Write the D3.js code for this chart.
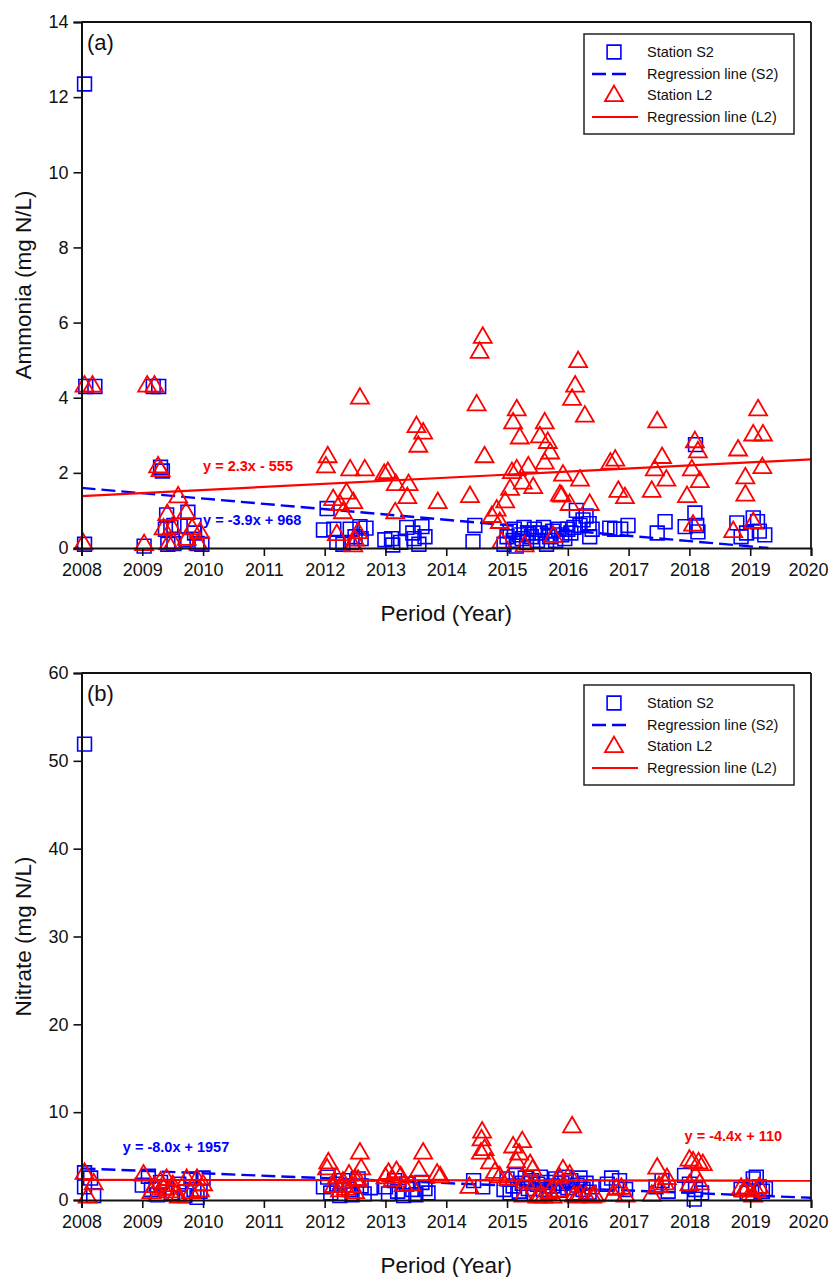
<!DOCTYPE html>
<html>
<head>
<meta charset="utf-8">
<script src="https://cdn.jsdelivr.net/npm/d3@7"></script>
<style>
  html, body { margin: 0; padding: 0; background: #fff; }
  svg text { font-family: "Liberation Sans", Arial, sans-serif; }
</style>
</head>
<body>
<svg id="fig" width="829" height="1277"></svg>
<script>
// ---------- data ----------
const yearTicks = [2008, 2009, 2010, 2011, 2012, 2013, 2014, 2015, 2016, 2017, 2018, 2019, 2020];
const ammoniaTicks = [0, 2, 4, 6, 8, 10, 12, 14];
const nitrateTicks = [0, 10, 20, 30, 40, 50, 60];
const legendLabels = ["Station S2", "Regression line (S2)", "Station L2", "Regression line (L2)"];

// Ammonia, station S2 [year, mg N/L]
const ammoniaS2 = [
  [2008.05,12.35],[2008.05,0.1],[2008.07,4.3],[2008.22,4.3],
  [2009.03,0.05],[2009.18,4.3],[2009.27,4.3],[2009.3,2.15],[2009.33,2.05],
  [2009.4,0.88],[2009.47,0.55],[2009.38,0.5],[2009.52,0.6],[2009.75,0.95],[2009.85,0.6],[2009.86,0.4],
  [2009.42,0.1],[2009.52,0.12],[2009.72,0.22],[2009.9,0.12],[2009.98,0.1],
  [2012.04,1.05],[2011.98,0.48],[2012.15,0.5],[2012.2,0.15],[2012.3,0.1],[2012.42,0.5],[2012.45,0.15],
  [2012.58,0.57],[2012.6,0.25],[2012.68,0.53],[2012.5,0.3],
  [2012.99,0.22],[2013.1,0.25],[2013.12,0.08],[2013.25,0.15],[2013.35,0.55],[2013.45,0.4],[2013.47,0.25],
  [2013.55,0.1],[2013.6,0.57],[2013.65,0.3],
  [2014.44,0.17],[2014.47,0.6],
  [2014.95,0.1],[2015.0,0.3],[2015.05,0.45],[2015.1,0.2],[2015.12,0.5],[2015.15,0.05],[2015.2,0.35],
  [2015.25,0.25],[2015.28,0.55],[2015.32,0.15],[2015.35,0.4],[2015.4,0.3],[2015.45,0.5],[2015.5,0.2],
  [2015.55,0.4],[2015.6,0.55],[2015.65,0.1],[2015.7,0.3],[2015.75,0.45],[2015.8,0.2],[2015.85,0.5],
  [2015.9,0.35],[2015.95,0.25],[2016.0,0.5],[2016.05,0.4],[2016.1,0.55],[2016.14,1.0],[2016.2,0.6],
  [2016.25,0.75],[2016.3,0.85],[2016.35,0.65],[2016.36,0.3],[2016.4,0.5],
  [2016.69,0.53],[2016.77,0.5],[2016.87,0.5],[2016.99,0.6],
  [2017.47,0.4],[2017.6,0.7],
  [2017.93,0.57],[2018.09,0.93],[2018.1,2.75],[2018.14,0.43],[2018.12,0.6],
  [2018.78,0.67],[2018.85,0.3],[2018.94,0.4],[2019.05,0.8],[2019.12,0.7],[2019.15,0.45],[2019.24,0.35]
];

// Ammonia, station L2
const ammoniaL2 = [
  [2008.03,0.1],[2008.05,4.3],[2008.18,4.3],
  [2009.03,0.08],[2009.08,4.3],[2009.2,4.3],[2009.26,2.15],[2009.3,2.05],
  [2009.59,1.35],[2009.41,0.88],[2009.72,0.93],[2009.49,0.53],[2009.35,0.5],[2009.82,0.5],[2009.95,0.4],
  [2009.51,0.13],[2009.43,0.1],[2009.73,0.22],[2009.92,0.1],
  [2012.05,2.42],[2012.02,2.15],[2012.14,1.28],[2012.25,1.15],[2012.36,1.45],[2012.47,1.2],[2012.3,0.93],
  [2012.2,0.35],[2012.42,2.07],[2012.66,2.07],[2012.58,3.98],[2012.47,0.05],[2012.55,0.4],[2012.5,0.2],
  [2012.98,1.95],[2013.04,2.0],[2013.17,1.68],[2013.38,1.68],[2013.36,1.33],[2013.16,0.93],[2013.51,3.22],
  [2013.62,3.05],[2013.54,2.7],[2013.86,1.2],
  [2014.39,1.36],[2014.63,2.42],[2014.5,3.8],[2014.55,5.2],[2014.6,5.6],
  [2014.91,0.15],[2014.88,0.67],[2014.75,0.83],[2014.83,1.0],[2014.97,1.22],[2015.05,1.55],[2015.08,2.0],
  [2015.16,3.67],[2015.1,3.32],[2015.21,2.92],[2015.16,2.07],[2015.26,1.72],[2015.43,1.6],[2015.29,0.05],
  [2015.62,3.32],[2015.54,2.95],[2015.67,2.8],[2015.71,2.52],[2015.62,2.25],[2015.35,2.15],[2015.76,0.3],
  [2015.92,1.93],[2015.87,1.4],
  [2016.17,4.95],[2016.12,4.3],[2016.07,3.95],[2016.28,3.5],[2016.2,1.8],[2015.9,1.37],[2016.03,1.15],[2016.36,1.15],
  [2016.7,2.25],[2016.78,2.33],[2016.83,1.5],[2016.94,1.33],
  [2017.47,3.35],[2017.55,2.4],[2017.43,2.07],[2017.62,1.8],[2017.38,1.5],
  [2018.09,2.82],[2018.14,2.55],[2018.04,2.07],[2018.17,1.76],[2017.96,1.36],[2018.06,0.6],
  [2018.8,2.6],[2018.92,1.86],[2018.92,1.4],[2018.72,0.43],[2019.05,0.67],[2019.13,3.67],[2019.05,3.0],
  [2019.21,3.0],[2019.2,2.13]
];

// Nitrate, station S2
const nitrateS2 = [
  [2008.05,51.9],[2008.05,3.1],[2008.05,1.5],[2008.2,0.5],[2008.15,2.5],
  [2009.0,1.7],[2009.1,2.7],[2009.15,1.2],[2009.25,0.6],[2009.3,2.0],[2009.4,1.4],[2009.5,0.8],[2009.6,1.8],
  [2009.7,0.5],[2009.8,2.4],[2009.85,1.2],[2009.9,0.3],[2010.0,2.5],[2009.95,1.0],
  [2011.98,1.5],[2012.05,2.6],[2012.1,0.8],[2012.2,1.8],[2012.25,0.5],[2012.3,2.2],[2012.4,1.2],[2012.45,0.6],
  [2012.55,2.4],[2012.6,1.6],[2012.65,0.7],[2012.75,1.4],
  [2013.0,1.5],[2013.05,0.7],[2013.15,2.2],[2013.2,1.0],[2013.3,0.5],[2013.35,1.8],[2013.45,1.2],[2013.5,0.6],
  [2013.6,2.0],[2013.65,1.3],[2013.7,0.8],
  [2014.45,2.2],[2014.6,1.5],[2014.95,1.2],[2015.0,2.4],[2015.05,0.8],[2015.1,1.6],[2015.15,2.8],[2015.2,1.0],
  [2015.25,1.9],[2015.3,2.5],[2015.35,1.3],[2015.4,2.2],[2015.45,0.7],[2015.5,1.8],[2015.55,2.6],[2015.6,1.2],
  [2015.65,2.0],[2015.7,0.9],[2015.75,1.6],[2015.8,2.4],[2015.85,1.1],[2015.9,1.9],[2015.95,2.6],[2016.0,1.4],
  [2016.05,2.2],[2016.1,0.8],[2016.15,1.7],[2016.2,2.5],[2016.25,1.2],[2016.3,1.9],[2016.35,0.9],[2016.4,1.5],
  [2016.65,1.8],[2016.72,2.5],[2016.8,1.4],[2016.85,2.2],[2016.95,1.2],
  [2017.45,1.5],[2017.55,2.2],[2017.65,1.0],
  [2017.92,2.8],[2018.0,1.8],[2018.08,0.1],[2018.1,1.2],[2018.2,0.8],
  [2018.85,1.2],[2018.95,0.8],[2019.05,2.4],[2019.1,2.6],[2019.15,1.5],[2019.2,1.0],[2019.25,1.3]
];

// Nitrate, station L2
const nitrateL2 = [
  [2008.05,3.0],[2008.2,1.8],[2008.1,0.3],
  [2009.02,2.8],[2009.15,0.8],[2009.2,1.5],[2009.25,0.5],[2009.3,2.0],[2009.35,1.2],[2009.4,2.3],[2009.45,0.9],
  [2009.5,1.6],[2009.55,0.5],[2009.6,0.3],[2009.73,2.3],[2009.8,0.8],[2009.9,2.3],[2010.0,1.7],[2009.95,1.0],
  [2012.04,3.5],[2012.06,4.2],[2012.15,1.5],[2012.2,2.5],[2012.25,1.0],[2012.3,2.0],[2012.35,1.2],[2012.4,2.8],
  [2012.45,1.5],[2012.5,2.3],[2012.55,2.2],[2012.58,5.3],[2012.6,3.5],[2012.5,0.8],
  [2013.0,2.5],[2013.05,3.0],[2013.12,2.2],[2013.18,3.2],[2013.25,2.6],[2013.3,1.6],[2013.42,1.7],[2013.55,3.3],
  [2013.62,5.3],[2013.85,2.9],
  [2013.9,2.6],[2014.38,1.4],[2014.59,7.7],[2014.58,6.8],[2014.63,5.7],[2014.57,5.3],[2014.72,4.2],[2015.25,6.6],
  [2015.1,6.0],[2015.2,5.2],[2015.15,4.3],[2015.38,4.0],[2015.42,3.4],[2014.8,3.1],[2014.88,2.6],[2015.02,2.3],
  [2015.27,0.4],[2015.5,0.3],[2015.55,0.5],[2015.6,0.3],[2015.7,0.8],[2015.75,0.3],[2015.85,1.0],[2015.92,3.4],
  [2016.03,2.8],[2015.86,2.5],[2016.07,8.3],[2016.1,0.4],[2016.15,0.3],[2016.2,0.5],[2016.3,0.4],[2016.4,0.3],
  [2016.45,0.4],[2015.3,2.0],[2015.45,1.8],
  [2016.75,0.5],[2016.8,1.2],[2016.88,1.3],[2016.95,0.4],
  [2017.47,3.6],[2017.63,2.4],[2017.5,1.5],[2017.38,0.5],[2017.6,1.8],
  [2018.0,4.5],[2018.06,4.3],[2018.15,4.2],[2018.1,2.7],[2018.17,1.8],[2018.0,1.7],[2018.22,4.0],
  [2018.85,1.3],[2018.9,1.0],[2018.95,1.3],[2019.0,0.6],[2019.05,0.4],[2019.15,1.4],[2019.1,1.0]
];

// Fitted trend lines, drawn between their end points [year, value]
const ammoniaFitS2 = [[2008, 1.6], [2019.3, 0]];
const ammoniaFitL2 = [[2008, 1.38], [2020, 2.36]];
const nitrateFitS2 = [[2008, 3.6], [2020, 0.25]];
const nitrateFitL2 = [[2008, 2.3], [2020, 2.2]];

const ammoniaEqS2 = "y = -3.9x + 968";
const ammoniaEqL2 = "y = 2.3x - 555";
const nitrateEqS2 = "y = -8.0x + 1957";
const nitrateEqL2 = "y = -4.4x + 110";

// ---------- drawing ----------
const BLUE = "#0000ff", RED = "#ff0000";
const svg = d3.select("#fig");

const left = 81.5, right = 811;

function panel(cfg) {
  const x = d3.scaleLinear().domain([2008, 2020]).range([left, right]);
  const y = d3.scaleLinear().domain([0, cfg.ymax]).range([cfg.bottom, cfg.top]);
  const g = svg.append("g");

  const sq = d3.symbol().type(d3.symbolSquare).size(190);
  const tri = d3.symbol().type(d3.symbolTriangle).size(140);
  const line = d3.line().x(d => x(d[0])).y(d => y(d[1]));

  // S2 squares + dashed fit
  g.append("g").selectAll("path").data(cfg.s2).join("path")
    .attr("d", sq).attr("transform", d => `translate(${x(d[0])},${y(d[1])})`)
    .attr("fill", "none").attr("stroke", BLUE).attr("stroke-width", 1.6);
  g.append("path").datum(cfg.fitS2).attr("d", line)
    .attr("fill", "none").attr("stroke", BLUE).attr("stroke-width", 2.4)
    .attr("stroke-dasharray", "14,6");

  // L2 triangles + solid fit
  g.append("g").selectAll("path").data(cfg.l2).join("path")
    .attr("d", tri).attr("transform", d => `translate(${x(d[0])},${y(d[1])})`)
    .attr("fill", "none").attr("stroke", RED).attr("stroke-width", 1.8);
  g.append("path").datum(cfg.fitL2).attr("d", line)
    .attr("fill", "none").attr("stroke", RED).attr("stroke-width", 2.2);

  // frame
  g.append("line").attr("x1", left).attr("x2", right).attr("y1", cfg.top).attr("y2", cfg.top)
    .attr("stroke", "#111").attr("stroke-width", 1.8);
  g.append("line").attr("x1", right).attr("x2", right).attr("y1", cfg.top).attr("y2", cfg.bottom)
    .attr("stroke", "#111").attr("stroke-width", 1.8);

  // axes
  const xAxis = g.append("g").attr("transform", `translate(0,${cfg.bottom})`)
    .call(d3.axisBottom(x).tickValues(yearTicks).tickFormat(d3.format("d")).tickSize(8).tickPadding(7));
  const yAxis = g.append("g").attr("transform", `translate(${left},0)`)
    .call(d3.axisLeft(y).tickValues(cfg.yticks).tickSize(8).tickPadding(5));
  [xAxis, yAxis].forEach(a => {
    a.select(".domain").attr("stroke", "#111").attr("stroke-width", 2);
    a.selectAll(".tick line").attr("stroke", "#111").attr("stroke-width", 1.6);
    a.selectAll("text").attr("fill", "#111").style("font-size", "18px")
      .style("font-family", '"Liberation Sans", Arial, sans-serif');
  });
  // keep the last year label inside the page edge
  xAxis.selectAll(".tick text").filter(d => d === 2020).attr("dx", "-3px");

  // titles
  g.append("text").attr("x", (left + right) / 2).attr("y", cfg.bottom + 73)
    .attr("text-anchor", "middle").style("font-size", "22.5px").attr("fill", "#111")
    .text("Period (Year)");
  g.append("text").attr("transform", `translate(31,${(cfg.top + cfg.bottom) / 2}) rotate(-90)`)
    .attr("text-anchor", "middle").style("font-size", "22.5px").attr("fill", "#111")
    .text(cfg.ytitle);
  g.append("text").attr("x", 87).attr("y", cfg.top + 28)
    .style("font-size", "22px").attr("fill", "#111").text(cfg.tag);

  // equations
  cfg.eqs.forEach(e => {
    g.append("text").attr("x", x(e.at[0])).attr("y", y(e.at[1]))
      .style("font-size", "14.5px").style("font-weight", "bold").attr("fill", e.color).text(e.text);
  });

  // legend
  const lx = 584, ly = cfg.top + 12, lw = 210, lh = 100;
  const lg = g.append("g");
  lg.append("rect").attr("x", lx).attr("y", ly).attr("width", lw).attr("height", lh)
    .attr("fill", "#fff").attr("stroke", "#222").attr("stroke-width", 1.5);
  const rows = [ly + 18, ly + 40, ly + 61, ly + 83];
  lg.append("path").attr("d", sq).attr("transform", `translate(614,${rows[0]})`)
    .attr("fill", "none").attr("stroke", BLUE).attr("stroke-width", 1.6);
  lg.append("line").attr("x1", 592).attr("x2", 630).attr("y1", rows[1]).attr("y2", rows[1])
    .attr("stroke", BLUE).attr("stroke-width", 2.4).attr("stroke-dasharray", "14,6");
  lg.append("path").attr("d", tri).attr("transform", `translate(614,${rows[2] + 1})`)
    .attr("fill", "none").attr("stroke", RED).attr("stroke-width", 1.8);
  lg.append("line").attr("x1", 592).attr("x2", 638).attr("y1", rows[3]).attr("y2", rows[3])
    .attr("stroke", RED).attr("stroke-width", 2.2);
  legendLabels.forEach((t, i) => {
    lg.append("text").attr("x", 647).attr("y", rows[i] + 5)
      .style("font-size", "14.5px").attr("fill", "#111").text(t);
  });
}

panel({
  top: 22, bottom: 548, ymax: 14, yticks: ammoniaTicks,
  ytitle: "Ammonia (mg N/L)", tag: "(a)",
  s2: ammoniaS2, l2: ammoniaL2, fitS2: ammoniaFitS2, fitL2: ammoniaFitL2,
  eqs: [
    { text: ammoniaEqL2, color: RED, at: [2010.0, 2.05] },
    { text: ammoniaEqS2, color: BLUE, at: [2010.0, 0.62] }
  ]
});

panel({
  top: 673, bottom: 1200, ymax: 60, yticks: nitrateTicks,
  ytitle: "Nitrate (mg N/L)", tag: "(b)",
  s2: nitrateS2, l2: nitrateL2, fitS2: nitrateFitS2, fitL2: nitrateFitL2,
  eqs: [
    { text: nitrateEqS2, color: BLUE, at: [2008.68, 5.5] },
    { text: nitrateEqL2, color: RED, at: [2017.92, 6.7] }
  ]
});
</script>
</body>
</html>
